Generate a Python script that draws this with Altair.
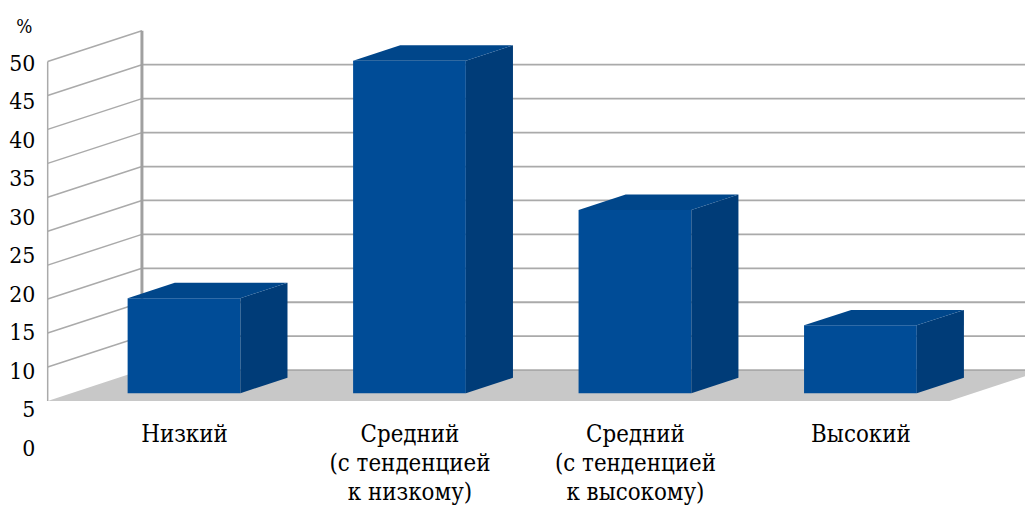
import json
import altair as alt
import pandas as pd

# ---------------- data ----------------
categories = [
    "Низкий",
    "Средний\n(с тенденцией\nк низкому)",
    "Средний\n(с тенденцией\nк высокому)",
    "Высокий",
]
values = [14, 49, 27, 10]
tick_values = [0, 5, 10, 15, 20, 25, 30, 35, 40, 45, 50]
unit_label = "%"

# ---------------- 3D-look projection ----------------
N = len(categories)
VMAX = tick_values[-1]
DX = 95 / 227.25      # depth shift in category units
DY = 31 / 6.84        # depth shift in value units
D0, D1 = 0.25, 0.75   # bar depth extent
W0, W1 = 0.25, 0.75   # bar width extent inside a category slot

FONT = "DejaVu Serif Condensed, DejaVu Serif, serif"
GRID = "#AAAAAA"
FRONT = "#004C97"
SIDE = "#003C78"
TOP = "#00468A"
FLOOR = "#C8C8C8"

xs = alt.Scale(domain=[0, N], range=[0, 909], nice=False, zero=False)
ys = alt.Scale(domain=[0, VMAX], range=[394, 52], nice=False, zero=False)

centers = [i + (W0 + W1) / 2 + D0 * DX for i in range(N)]
expr = json.dumps(categories[-1].split("\n"), ensure_ascii=False)
for i in reversed(range(N - 1)):
    lab = json.dumps(categories[i].split("\n"), ensure_ascii=False)
    expr = f"datum.value < {i + 1} ? {lab} : ({expr})"

x_axis = alt.Axis(
    values=centers, labelExpr=expr, orient="bottom", ticks=False, domain=False,
    grid=False, labelFont=FONT, labelFontSize=24, labelColor="black",
    labelLineHeight=29, labelPadding=11, labelBaseline="top", labelAlign="center",
    labelFlush=False, labelOverlap=False, title=None,
)


def X(f):
    return alt.X(f, scale=xs, axis=x_axis)


def Y(f):
    return alt.Y(f, scale=ys, axis=None)


# floor
floor_df = pd.DataFrame({"y": [0, DY], "x": [0, DX], "x2": [N, N + DX]})
floor = alt.Chart(floor_df).mark_area(orient="horizontal", color=FLOOR).encode(
    y=Y("y:Q"), x=X("x:Q"), x2="x2:Q"
)

# back wall grid lines
back_df = pd.DataFrame({
    "x": [DX] * (len(tick_values) - 1),
    "x2": [N + DX] * (len(tick_values) - 1),
    "y": [v + DY for v in tick_values[:-1]],
})
back_lines = alt.Chart(back_df).mark_rule(color=GRID, strokeWidth=1.8).encode(
    x=X("x:Q"), x2="x2:Q", y=Y("y:Q"), y2="y:Q"
)

# left wall grid lines
left_df = pd.DataFrame({
    "x": [0] * (len(tick_values) - 1),
    "x2": [DX] * (len(tick_values) - 1),
    "y": tick_values[1:],
    "y2": [v + DY for v in tick_values[1:]],
})
left_lines = alt.Chart(left_df).mark_rule(color=GRID, strokeWidth=1.5).encode(
    x=X("x:Q"), x2="x2:Q", y=Y("y:Q"), y2="y2:Q"
)

front_edge = alt.Chart(pd.DataFrame({"x": [0], "y": [0], "y2": [VMAX]})).mark_rule(
    color=GRID, strokeWidth=1.5
).encode(x=X("x:Q"), y=Y("y:Q"), y2="y2:Q")

back_edge = alt.Chart(pd.DataFrame({"x": [DX], "y": [DY], "y2": [VMAX + DY]})).mark_rule(
    color="#A0A0A0", strokeWidth=3
).encode(x=X("x:Q"), y=Y("y:Q"), y2="y2:Q")

# bars
front_rows, side_rows, top_rows = [], [], []
for i, v in enumerate(values):
    u0, u1 = i + W0, i + W1
    front_rows.append({"bar": i, "x": u0 + D0 * DX, "x2": u1 + D0 * DX,
                       "y": D0 * DY, "y2": v + D0 * DY})
    for d in (D0, D1):
        side_rows.append({"bar": i, "x": u1 + d * DX, "y": v + d * DY, "y2": d * DY})
        top_rows.append({"bar": i, "y": v + d * DY, "x": u0 + d * DX, "x2": u1 + d * DX})

bar_front = alt.Chart(pd.DataFrame(front_rows)).mark_rect(color=FRONT).encode(
    x=X("x:Q"), x2="x2:Q", y=Y("y:Q"), y2="y2:Q"
)
bar_side = alt.Chart(pd.DataFrame(side_rows)).mark_area(orient="vertical", color=SIDE).encode(
    x=X("x:Q"), y=Y("y:Q"), y2="y2:Q", detail="bar:N"
)
bar_top = alt.Chart(pd.DataFrame(top_rows)).mark_area(orient="horizontal", color=TOP).encode(
    y=Y("y:Q"), x=X("x:Q"), x2="x2:Q", detail="bar:N"
)

# value axis labels
labels = alt.Chart(pd.DataFrame({"v": tick_values})).mark_point(opacity=0).encode(
    y=alt.Y(
        "v:Q",
        scale=alt.Scale(domain=[0, VMAX], range=[442, 54], nice=False, zero=False),
        axis=alt.Axis(
            orient="left", values=tick_values, format="d", ticks=False, domain=False,
            grid=False, labelFont=FONT, labelFontSize=23, labelColor="black",
            labelPadding=13, labelFlush=False, labelOverlap=False,
            title=unit_label, titleAngle=0, titleX=-24, titleY=17,
            titleAlign="center", titleBaseline="middle", titleFont=FONT,
            titleFontSize=19, titleFontWeight="normal", titleColor="black",
        ),
    )
)

chart = alt.layer(
    labels, floor, back_lines, left_lines, front_edge, back_edge,
    bar_front, bar_side, bar_top,
).resolve_scale(y="independent").properties(
    width=985, height=405,
    padding={"left": 40, "top": 0, "right": 0, "bottom": 96},
    autosize=alt.AutoSizeParams(type="none"),
).configure_view(stroke=None)

chart.save("out.html", embed_options={"renderer": "svg", "actions": False})
